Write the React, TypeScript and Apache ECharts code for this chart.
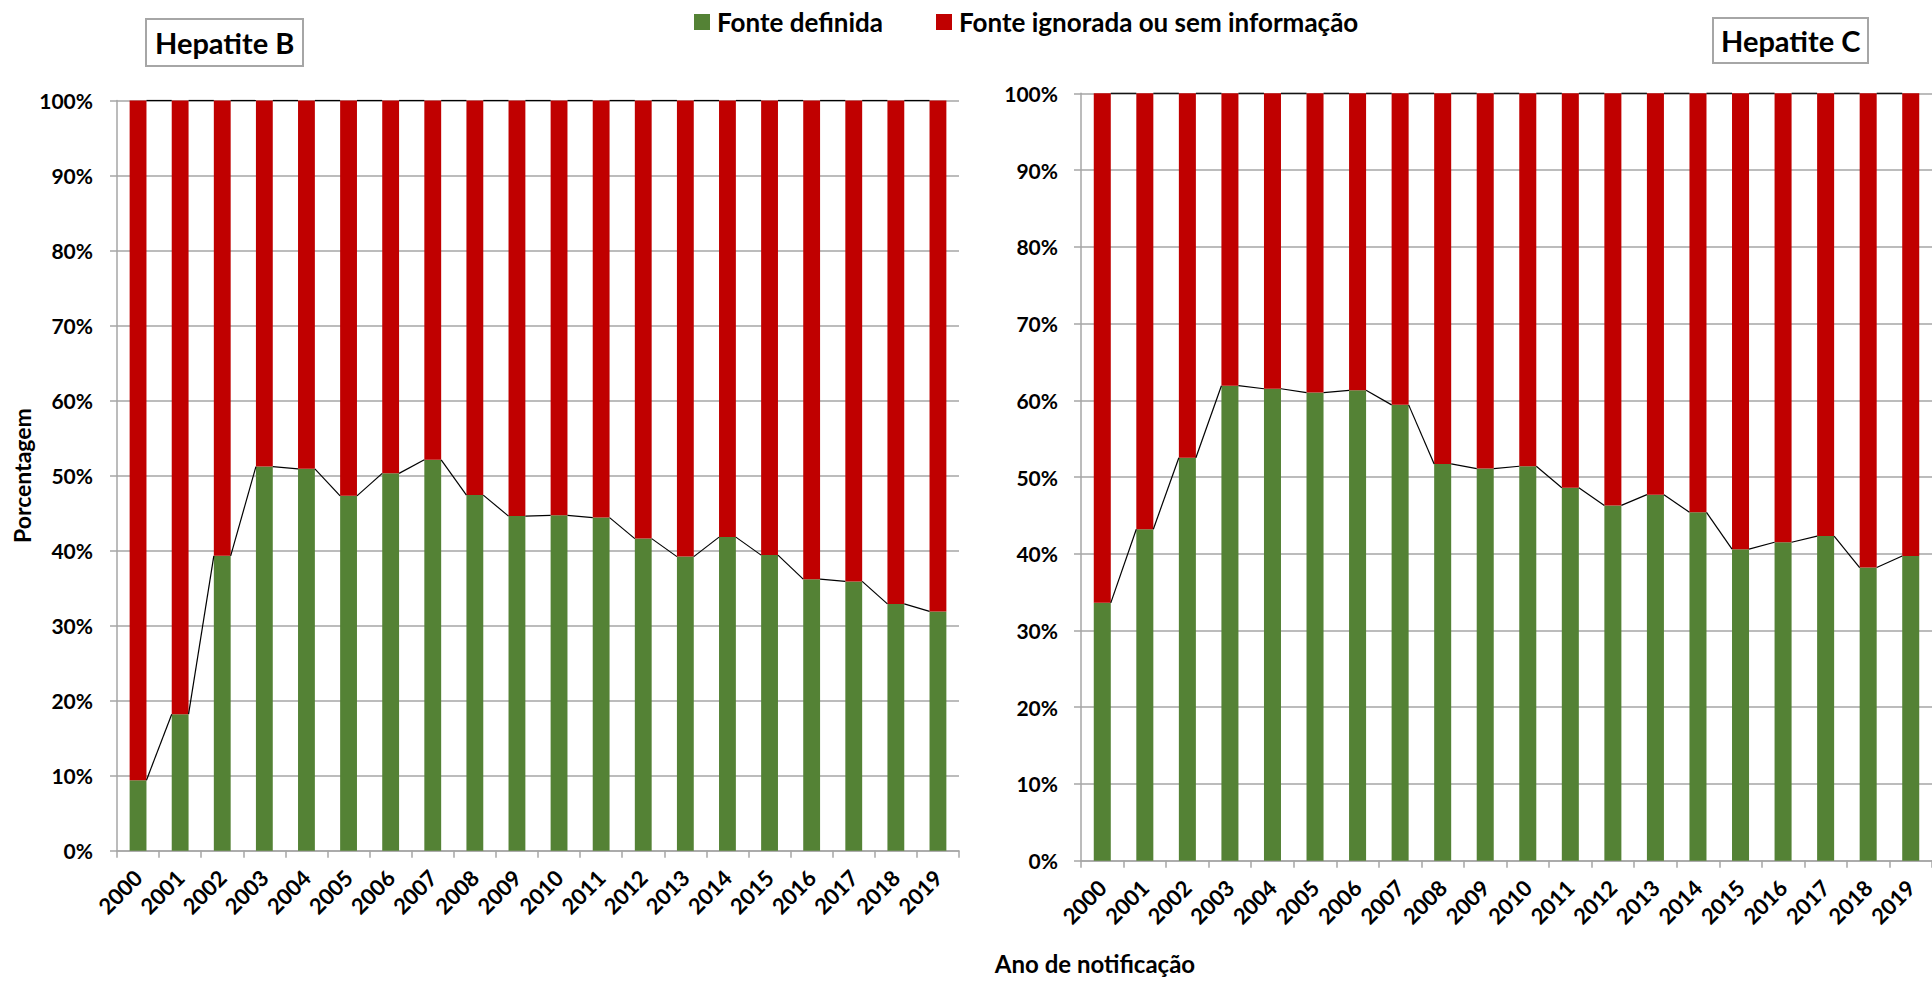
import React, { useEffect, useRef } from "react";
import * as echarts from "echarts";

const years = ["2000", "2001", "2002", "2003", "2004", "2005", "2006", "2007", "2008", "2009", "2010", "2011", "2012", "2013", "2014", "2015", "2016", "2017", "2018", "2019"];

const hepBDefinida = [9.4, 18.2, 39.3, 51.2, 50.9, 47.3, 50.3, 52.1, 47.4, 44.6, 44.7, 44.4, 41.6, 39.2, 41.8, 39.4, 36.2, 35.9, 32.9, 31.9];
const hepBIgnorada = [90.6, 81.8, 60.7, 48.8, 49.1, 52.7, 49.7, 47.9, 52.6, 55.4, 55.3, 55.6, 58.4, 60.8, 58.2, 60.6, 63.8, 64.1, 67.1, 68.1];

const hepCDefinida = [33.6, 43.2, 52.5, 61.9, 61.5, 61.0, 61.3, 59.4, 51.7, 51.1, 51.4, 48.6, 46.3, 47.7, 45.4, 40.6, 41.5, 42.3, 38.2, 39.7];
const hepCIgnorada = [66.4, 56.8, 47.5, 38.1, 38.5, 39.0, 38.7, 40.6, 48.3, 48.9, 48.6, 51.4, 53.7, 52.3, 54.6, 59.4, 58.5, 57.7, 61.8, 60.3];

const yTicks = [0, 10, 20, 30, 40, 50, 60, 70, 80, 90, 100];

const NAME_DEF = "Fonte definida";
const NAME_IGN = "Fonte ignorada ou sem informação";
const GREEN = "#548235";
const RED = "#C00000";
const GRAY = "#A6A6A6";
const FONT = "Lato, 'Open Sans', sans-serif";
const BAR_RATIO = 0.4;

function pairs(values: number[]) {
  const out: number[][] = [];
  for (let i = 0; i < values.length - 1; i++) out.push([i, values[i], values[i + 1]]);
  return out;
}

function renderSeriesLine(params: any, api: any) {
  const i = api.value(0);
  const v = api.value(1);
  const vn = api.value(2);
  const p1 = api.coord([i, v]);
  const p2 = api.coord([i + 1, vn]);
  const half = (api.size([1, 0])[0] * BAR_RATIO) / 2;
  return {
    type: "line",
    shape: { x1: p1[0] + half, y1: p1[1], x2: p2[0] - half, y2: p2[1] },
    style: { stroke: "#000000", lineWidth: 1.2 },
    silent: true,
  };
}

function xAxisCfg(gridIndex: number) {
  return {
    type: "category",
    gridIndex,
    data: years,
    axisLine: { lineStyle: { color: GRAY, width: 1.5 } },
    axisTick: { show: true, length: 7, lineStyle: { color: GRAY, width: 1.5 } },
    axisLabel: {
      rotate: 45,
      margin: 23,
      interval: 0,
      color: "#000",
      fontFamily: FONT,
      fontWeight: "bold",
      fontSize: 22,
    },
    splitLine: { show: false },
  };
}

function yAxisCfg(gridIndex: number, margin: number, withName: boolean) {
  return {
    type: "value",
    gridIndex,
    min: yTicks[0],
    max: yTicks[yTicks.length - 1],
    interval: yTicks[1] - yTicks[0],
    name: withName ? "Porcentagem" : "",
    nameLocation: "middle",
    nameGap: 84,
    nameTextStyle: { color: "#000", fontFamily: FONT, fontWeight: "bold", fontSize: 23 },
    axisLine: { show: true, lineStyle: { color: GRAY, width: 1.5 } },
    axisTick: { show: true, length: 7, lineStyle: { color: GRAY, width: 1.5 } },
    axisLabel: {
      margin,
      formatter: "{value}%",
      color: "#000",
      fontFamily: FONT,
      fontWeight: "bold",
      fontSize: 21,
    },
    splitLine: { show: true, lineStyle: { color: GRAY, width: 1.5 } },
  };
}

function barSeries(name: string, data: number[], color: string, idx: number, stack: string) {
  return {
    name,
    type: "bar",
    stack,
    xAxisIndex: idx,
    yAxisIndex: idx,
    data,
    barCategoryGap: "60%",
    itemStyle: { color },
    emphasis: { disabled: true },
  };
}

function lineSeries(values: number[], idx: number) {
  return {
    type: "custom",
    xAxisIndex: idx,
    yAxisIndex: idx,
    renderItem: renderSeriesLine,
    data: pairs(values),
    z: 5,
    silent: true,
  };
}

function legendCfg(name: string, left: number) {
  return {
    data: [name],
    left,
    top: 9,
    padding: 0,
    itemWidth: 16,
    itemHeight: 16,
    itemGap: 0,
    icon: "rect",
    selectedMode: false,
    textStyle: { color: "#000", fontFamily: FONT, fontWeight: "bold", fontSize: 26, padding: [0, 0, 0, 2] },
  };
}

export default function App() {
  const ref = useRef<HTMLDivElement>(null);

  useEffect(() => {
    if (!ref.current) return;
    const chart = echarts.init(ref.current, null, { renderer: "svg" });
    const totB = hepBDefinida.map((v, i) => v + hepBIgnorada[i]);
    const totC = hepCDefinida.map((v, i) => v + hepCIgnorada[i]);

    const titleStyle = { color: "#000", fontFamily: FONT, fontWeight: "bold", fontSize: 29, lineHeight: 33 };

    chart.setOption({
      animation: false,
      backgroundColor: "#ffffff",
      title: [
        {
          text: "Hepatite B",
          left: 146,
          top: 19,
          padding: [7, 9, 7, 9],
          borderColor: GRAY,
          borderWidth: 2,
          textStyle: titleStyle,
        },
        {
          text: "Hepatite C",
          left: 1713,
          top: 18,
          padding: [6, 8, 6, 8],
          borderColor: GRAY,
          borderWidth: 2,
          textStyle: titleStyle,
        },
      ],
      legend: [legendCfg(NAME_DEF, 694), legendCfg(NAME_IGN, 936)],
      grid: [
        { left: 117, top: 100.5, width: 842, height: 750.2 },
        { left: 1081, top: 93.3, width: 860, height: 767.4 },
      ],
      xAxis: [xAxisCfg(0), xAxisCfg(1)],
      yAxis: [yAxisCfg(0, 24, true), yAxisCfg(1, 23, false)],
      graphic: [
        {
          type: "text",
          x: 1095,
          y: 963,
          style: {
            text: "Ano de notificação",
            fill: "#000",
            font: `bold 24px ${FONT}`,
            textAlign: "center",
            textVerticalAlign: "middle",
          },
        },
      ],
      series: [
        barSeries(NAME_DEF, hepBDefinida, GREEN, 0, "b"),
        barSeries(NAME_IGN, hepBIgnorada, RED, 0, "b"),
        lineSeries(hepBDefinida, 0),
        lineSeries(totB, 0),
        barSeries(NAME_DEF, hepCDefinida, GREEN, 1, "c"),
        barSeries(NAME_IGN, hepCIgnorada, RED, 1, "c"),
        lineSeries(hepCDefinida, 1),
        lineSeries(totC, 1),
      ],
    });
    return () => chart.dispose();
  }, []);

  return (
    <div
      ref={ref}
      style={{ position: "absolute", left: 0, top: 0, width: 1932, height: 981, background: "#fff" }}
    />
  );
}
